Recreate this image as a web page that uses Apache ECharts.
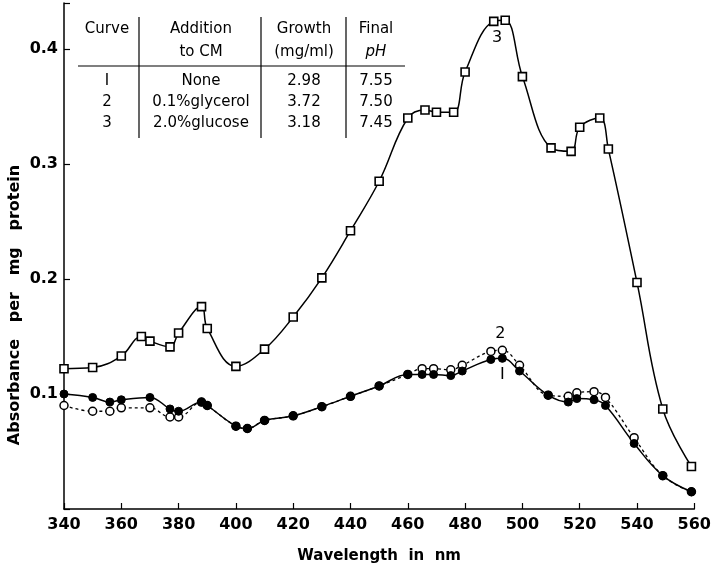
<!DOCTYPE html>
<html>
<head>
<meta charset="utf-8">
<script src="https://cdn.jsdelivr.net/npm/echarts@6/dist/echarts.min.js"></script>
<style>
  html, body { margin: 0; padding: 0; background: #fff; }
  #chart { width: 714px; height: 570px; }
</style>
</head>
<body>
<div id="chart"></div>
<script>
// wavelengths (nm) and absorbance per mg protein
var wl3 = [340, 350, 360, 367, 370, 377, 380, 388, 390, 400, 410, 420, 430, 440, 450,
  460, 466, 470, 476, 480, 490, 494, 500, 510, 517, 520, 527, 530, 540, 549, 559];
var abs3 = [0.122, 0.123, 0.133, 0.150, 0.146, 0.141, 0.153, 0.176, 0.157, 0.124, 0.139,
  0.167, 0.201, 0.242, 0.285, 0.340, 0.347, 0.345, 0.345, 0.380, 0.424, 0.425, 0.376,
  0.314, 0.311, 0.332, 0.340, 0.313, 0.197, 0.087, 0.037];

var wl12 = [340, 350, 356, 360, 370, 377, 380, 388, 390, 400, 404, 410, 420, 430, 440, 450,
  460, 465, 469, 475, 479, 489, 493, 499, 509, 516, 519, 525, 529, 539, 549, 559];
var abs1 = [0.100, 0.097, 0.093, 0.095, 0.097, 0.087, 0.085, 0.093, 0.090, 0.072, 0.070,
  0.077, 0.081, 0.089, 0.098, 0.107, 0.117, 0.117, 0.117, 0.116, 0.120, 0.130, 0.131,
  0.120, 0.099, 0.093, 0.096, 0.095, 0.090, 0.057, 0.029, 0.015];
var abs2 = [0.090, 0.085, 0.085, 0.088, 0.088, 0.080, 0.080, 0.093, 0.090, 0.072, 0.070,
  0.077, 0.081, 0.089, 0.098, 0.107, 0.117, 0.122, 0.122, 0.121, 0.125, 0.137, 0.138,
  0.125, 0.099, 0.098, 0.101, 0.102, 0.097, 0.062, 0.029, 0.015];

var yLabels = ["0.1", "0.2", "0.3", "0.4"];

// inset table
var tableHead = [["Curve", ""], ["Addition", "to CM"], ["Growth", "(mg/ml)"], ["Final", "pH"]];
var tableRows = [
  ["I", "None", "2.98", "7.55"],
  ["2", "0.1%glycerol", "3.72", "7.50"],
  ["3", "2.0%glucose", "3.18", "7.45"]
];

function pairs(xs, ys) {
  return xs.map(function (x, i) { return [x, ys[i]]; });
}

function curveLabel(text, coord, offset) {
  return {
    symbol: "circle",
    symbolSize: 1,
    itemStyle: { color: "transparent", borderWidth: 0 },
    label: { show: true, formatter: text, fontFamily: FONT, fontSize: 16, color: "#000", offset: offset },
    data: [{ coord: coord }],
  };
}

var FONT = "DejaVu Sans";
var chart = echarts.init(document.getElementById("chart"));

// table graphics
var colX = [107, 201, 304, 376];
var g = [];
function txt(t, x, y, extra) {
  g.push({ type: "text", x: x, y: y, style: {
    text: t, font: (extra || "") + "15px " + FONT, fill: "#000", textAlign: "center", textVerticalAlign: "middle" } });
}
tableHead.forEach(function (h, c) {
  txt(h[0], colX[c], 29);
  if (h[1]) txt(h[1], colX[c], 52, c === 3 ? "italic " : "");
});
tableRows.forEach(function (r, i) {
  r.forEach(function (t, c) { txt(t, colX[c], 81 + i * 21); });
});
[139, 261, 346].forEach(function (x) {
  g.push({ type: "line", shape: { x1: x, y1: 17, x2: x, y2: 138 }, style: { stroke: "#000", lineWidth: 1.2 } });
});
g.push({ type: "line", shape: { x1: 78, y1: 66, x2: 405, y2: 66 }, style: { stroke: "#000", lineWidth: 1.2 } });
// y axis title
g.push({ type: "text", x: 15, y: 305, rotation: Math.PI / 2, style: {
  text: "Absorbance   per   mg   protein", font: "bold 16px " + FONT, fill: "#000",
  textAlign: "center", textVerticalAlign: "middle" } });

chart.setOption({
  animation: false,
  backgroundColor: "#fff",
  grid: { left: 64, right: 17, top: 3, bottom: 61 },
  xAxis: {
    type: "value",
    min: 340,
    max: 560,
    interval: 20,
    name: "Wavelength  in  nm",
    nameLocation: "middle",
    nameGap: 40,
    nameTextStyle: { fontFamily: FONT, fontWeight: "bold", fontSize: 15, color: "#000" },
    axisLine: { lineStyle: { color: "#000", width: 1.5 } },
    axisTick: { inside: true, length: 6, lineStyle: { color: "#000", width: 1.2 } },
    axisLabel: { fontFamily: FONT, fontWeight: "bold", fontSize: 16, color: "#000", margin: 8 },
    splitLine: { show: false },
  },
  yAxis: {
    type: "value",
    min: 0,
    max: 0.44,
    interval: 0.1,
    axisLine: { lineStyle: { color: "#000", width: 1.5 } },
    axisTick: { inside: true, length: 6, lineStyle: { color: "#000", width: 1.2 } },
    axisLabel: {
      fontFamily: FONT, fontWeight: "bold", fontSize: 16, color: "#000", margin: 6,
      formatter: function (v) {
        var s = v.toFixed(1);
        return yLabels.indexOf(s) >= 0 && Math.abs(v - parseFloat(s)) < 1e-6 ? s : "";
      },
    },
    splitLine: { show: false },
  },
  series: [
    {
      name: "3",
      type: "line",
      smooth: 0.4,
      data: pairs(wl3, abs3),
      symbol: "rect",
      symbolSize: 8,
      itemStyle: { color: "#fff", borderColor: "#000", borderWidth: 1.6 },
      lineStyle: { color: "#000", width: 1.5 },
      markPoint: curveLabel("3", [494, 0.425], [-8, 18]),
    },
    {
      name: "2",
      type: "line",
      smooth: 0.4,
      data: pairs(wl12, abs2),
      symbol: "circle",
      symbolSize: 8,
      itemStyle: { color: "#fff", borderColor: "#000", borderWidth: 1.5 },
      lineStyle: { color: "#000", width: 1.3, type: [3, 3] },
      markPoint: curveLabel("2", [493, 0.138], [-2, -16]),
    },
    {
      name: "1",
      type: "line",
      smooth: 0.4,
      data: pairs(wl12, abs1),
      symbol: "circle",
      symbolSize: 8,
      itemStyle: { color: "#000", borderColor: "#000", borderWidth: 1 },
      lineStyle: { color: "#000", width: 1.5 },
      markPoint: curveLabel("I", [493, 0.131], [0, 16]),
    },
  ],
  graphic: g,
});
</script>
</body>
</html>
